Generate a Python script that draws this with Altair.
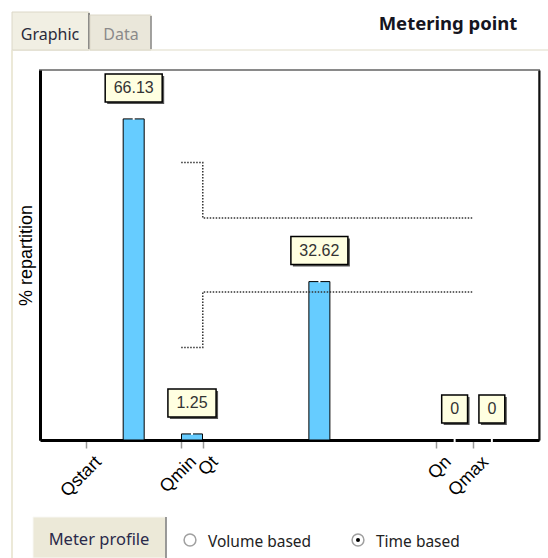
import altair as alt
import pandas as pd

# ---------------- data ----------------
categories = ["Qstart", "Qmin", "Qt", "Qn", "Qmax"]
flow_points = [4.2, 13.9, 16.1, 39.9, 43.7]      # flow position of each characteristic point
flow_last_edge = 47.5                              # upper edge of the last class
repartition = [66.13, 1.25, 32.62, 0.0, 0.0]       # % repartition per flow class
value_labels = ["66.13", "1.25", "32.62", "0", "0"]
mpe_low_zone = 5.0    # ± MPE (%) between Qmin and Qt
mpe_high_zone = 2.0   # ± MPE (%) between Qt and Qmax

# ---------------- derived tables ----------------
edges = flow_points + [flow_last_edge]
centers = [(edges[i] + edges[i + 1]) / 2 for i in range(len(repartition))]

def box_width(s):
    return 17 + 16 * sum(0.278 if c == "." else 0.556 for c in s)

def box_path(s):
    hw = box_width(s) / 56.0
    return f"M{-hw:.3f},-0.5L{hw:.3f},-0.5L{hw:.3f},0.5L{-hw:.3f},0.5Z"

bars = pd.DataFrame({
    "flow": centers,
    "value": repartition,
    "label": value_labels,
    "path": [box_path(s) for s in value_labels],
    "notch": [5 if v == 0 else 2 for v in repartition],
})

q = dict(zip(categories, flow_points))
env_rows = []
for side, sgn in (("upper", 1), ("lower", -1)):
    pts = [(q["Qmin"], mpe_low_zone), (q["Qt"], mpe_low_zone),
           (q["Qt"], mpe_high_zone), (q["Qmax"], mpe_high_zone)]
    for i, (f, m) in enumerate(pts):
        env_rows.append({"flow": f, "mpe": sgn * m, "side": side, "ord": i})
env = pd.DataFrame(env_rows)

label_expr = " : ".join(
    f"datum.value == {v} ? '{c}'" for c, v in zip(categories, flow_points)
) + " : ''"

# ---------------- layout ----------------
PL, PT, PW, PH = 40, 70, 499, 370
OX, OY = PL, PT

x_enc = alt.X(
    "flow:Q",
    scale=alt.Scale(domain=[0, 49.9], nice=False, zero=False),
    axis=alt.Axis(
        values=flow_points, labelExpr=label_expr, title=None, grid=False,
        labelAngle=-45, labelAlign="right", labelBaseline="middle",
        labelOffset=12, labelPadding=11, labelOverlap=False, labelFlush=False,
        labelBound=False, labelFont="Liberation Sans", labelFontSize=18,
        labelColor="black", tickSize=8, tickColor="#999999", tickWidth=1.5,
        domainColor="black", domainWidth=3,
    ),
)
y_scale = alt.Scale(domain=[0, 76.2], nice=False, zero=True)
y_axis = alt.Axis(
    orient="left", ticks=False, labels=False, grid=False,
    domainColor="black", domainWidth=3, title="% repartition",
    titleFont="Liberation Sans", titleFontSize=18, titleFontWeight="normal",
    titleColor="black", titlePadding=5,
)
y_enc = alt.Y("value:Q", scale=y_scale, axis=y_axis)

base = alt.Chart(bars)
bar_layer = base.mark_bar(size=21, color="#66CCFF", stroke="black", strokeWidth=1).encode(x=x_enc, y=y_enc)
notch_layer = base.mark_tick(orient="vertical", color="white", thickness=2, opacity=1).encode(
    x=x_enc, y=y_enc, size=alt.Size("notch:Q", scale=None))
shadow_layer = base.mark_point(filled=True, color="#555555", opacity=1, size=3136,
                               xOffset=2, yOffset=-29).encode(
    x=x_enc, y=y_enc, shape=alt.Shape("path:N", scale=None))
box_layer = base.mark_point(filled=True, fill="#FFFFE1", stroke="black", strokeWidth=1.5,
                            opacity=1, size=3136, yOffset=-31).encode(
    x=x_enc, y=y_enc, shape=alt.Shape("path:N", scale=None))
text_layer = base.mark_text(dy=-31, font="Liberation Sans", fontSize=16, color="#333333",
                            align="center", baseline="middle").encode(
    x=x_enc, y=y_enc, text="label:N")

main = alt.layer(bar_layer, notch_layer, shadow_layer, box_layer, text_layer)

env_layer = alt.Chart(env).mark_line(color="#333333", strokeDash=[1.5, 1.5], strokeWidth=1.5).encode(
    x=x_enc,
    y=alt.Y("mpe:Q", scale=alt.Scale(domain=[-10, 10], nice=False),
            axis=alt.Axis(orient="right", ticks=False, labels=False, grid=False,
                          domainColor="#111111", domainWidth=2, title=None)),
    detail="side:N", order="ord:Q",
)

dummy = pd.DataFrame({"a": [0]})

def ui_rect(x0, y0, x1, y1, **kw):
    return alt.Chart(dummy).mark_rect(**kw).encode(
        x=alt.value(x0 - OX), x2=alt.value(x1 - OX),
        y=alt.value(y0 - OY), y2=alt.value(y1 - OY))

def ui_rule(x0, y0, x1, y1, **kw):
    return alt.Chart(dummy).mark_rule(**kw).encode(
        x=alt.value(x0 - OX), x2=alt.value(x1 - OX),
        y=alt.value(y0 - OY), y2=alt.value(y1 - OY))

def ui_text(s, x, y, **kw):
    return alt.Chart(dummy).mark_text(text=s, **kw).encode(
        x=alt.value(x - OX), y=alt.value(y - OY))

def ui_point(x, y, **kw):
    return alt.Chart(dummy).mark_point(**kw).encode(
        x=alt.value(x - OX), y=alt.value(y - OY))

ui = [
    ui_rule(12, 50, 12, 558, color="#ECE9D8", strokeWidth=2),
    ui_rule(12, 50, 548, 50, color="#EFEDE3", strokeWidth=2),
    ui_rect(12, 12, 89, 50, fill="#F1EFE3", stroke="#DCD8C8", strokeWidth=1),
    ui_rule(89, 13, 89, 49, color="#6F6F6F", strokeWidth=1.5),
    ui_rect(90, 15, 151, 50, fill="#EAE7DA", stroke="#DCD8C8", strokeWidth=1),
    ui_rule(151, 16, 151, 49, color="#8A8A8A", strokeWidth=1.5),
    ui_text("Graphic", 50, 40, font="Noto Sans", fontSize=16, color="#2A2A3A",
            align="center", baseline="alphabetic"),
    ui_text("Data", 121, 40, font="Noto Sans", fontSize=16, color="#8A8A8A",
            align="center", baseline="alphabetic"),
    ui_text("Metering point", 448, 30, font="Noto Sans", fontSize=18.5, fontWeight="bold",
            color="#151520", align="center", baseline="alphabetic"),
    ui_rect(33, 517, 166, 558, fill="#ECE9D8", stroke="#F8F8F4", strokeWidth=1),
    ui_rule(166, 517, 166, 558, color="#7A7A7A", strokeWidth=1.5),
    ui_text("Meter profile", 99, 545, font="Noto Sans", fontSize=16.5, color="#2A2A4A",
            align="center", baseline="alphabetic"),
    ui_point(190, 540, shape="circle", size=140, filled=False, stroke="#A0A0A0",
             strokeWidth=1.5, fill="white", opacity=1),
    ui_text("Volume based", 208, 547, font="Noto Sans", fontSize=15.5, color="#222222",
            align="left", baseline="alphabetic"),
    ui_point(358, 540, shape="circle", size=140, filled=False, stroke="#A0A0A0",
             strokeWidth=1.5, fill="white", opacity=1),
    ui_point(358, 540, shape="circle", size=16, filled=True, color="black", opacity=1),
    ui_text("Time based", 376, 547, font="Noto Sans", fontSize=15.5, color="#222222",
            align="left", baseline="alphabetic"),
]

chart = alt.layer(main, env_layer, *ui).resolve_scale(y="independent").properties(
    width=PW, height=PH,
    autosize=alt.AutoSizeParams(type="none"),
    padding={"left": PL, "top": PT, "right": 548 - PL - PW, "bottom": 558 - PT - PH},
    background="white",
).configure_view(stroke="#8A8A8A", strokeWidth=2)

chart.save("out.html", embed_options={"renderer": "svg", "actions": False})
